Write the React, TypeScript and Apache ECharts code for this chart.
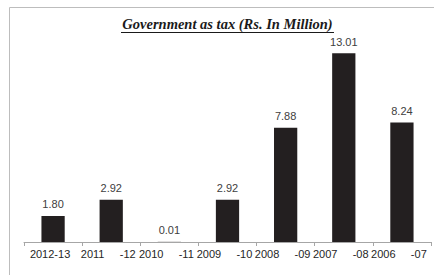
import React, { useEffect, useRef } from "react";
import * as echarts from "echarts";

const categories = ["2012-13", "2011 -12", "2010 -11", "2009 -10", "2008 -09", "2007 -08", "2006 -07"];
const values = [1.8, 2.92, 0.01, 2.92, 7.88, 13.01, 8.24];
const titleText = "Government as tax (Rs. In Million)";

export default function App() {
  const ref = useRef<HTMLDivElement>(null);
  useEffect(() => {
    if (!ref.current) return;
    const chart = echarts.init(ref.current, undefined, { renderer: "svg" });
    chart.setOption({
      animation: false,
      backgroundColor: "#ffffff",
      title: {
        text: titleText,
        left: 227.5,
        top: 16,
        textAlign: "center",
        padding: 0,
        textStyle: {
          fontFamily: "serif",
          fontStyle: "italic",
          fontWeight: "bold",
          fontSize: 14.5,
          color: "#1a1a1a",
        },
      },
      graphic: [
        {
          type: "rect",
          shape: { x: 9.5, y: 7.5, width: 600, height: 600 },
          style: { fill: "none", stroke: "#bdbdbd", lineWidth: 1 },
          silent: true,
        },
        {
          type: "line",
          shape: { x1: 121, y1: 32.5, x2: 334, y2: 32.5 },
          style: { stroke: "#1a1a1a", lineWidth: 1 },
        },
      ],
      grid: { left: 24, right: 3, top: 39, bottom: 33 },
      xAxis: {
        type: "category",
        data: categories,
        axisLine: { show: true, lineStyle: { color: "#a6a6a6", width: 1 } },
        axisTick: { show: true, length: 4, lineStyle: { color: "#a6a6a6" } },
        axisLabel: {
          color: "#262626",
          fontSize: 11,
          fontFamily: "Liberation Sans",
          margin: 6,
          interval: 0,
          padding: [0, 6, 0, 0],
          formatter: (v: string) => v.replace(" ", "     "),
        },
      },
      yAxis: { type: "value", min: 0, max: 14, show: false },
      series: [
        {
          type: "bar",
          data: values,
          barWidth: "40%",
          itemStyle: { color: "#231f20" },
          label: {
            show: true,
            position: "top",
            distance: 6,
            color: "#404040",
            fontSize: 11,
            fontFamily: "Liberation Sans",
            formatter: (p: any) => Number(p.value).toFixed(2),
          },
        },
      ],
    });
    return () => chart.dispose();
  }, []);
  return <div ref={ref} style={{ position: "fixed", left: 0, top: 0, width: 434, height: 275 }} />;
}
